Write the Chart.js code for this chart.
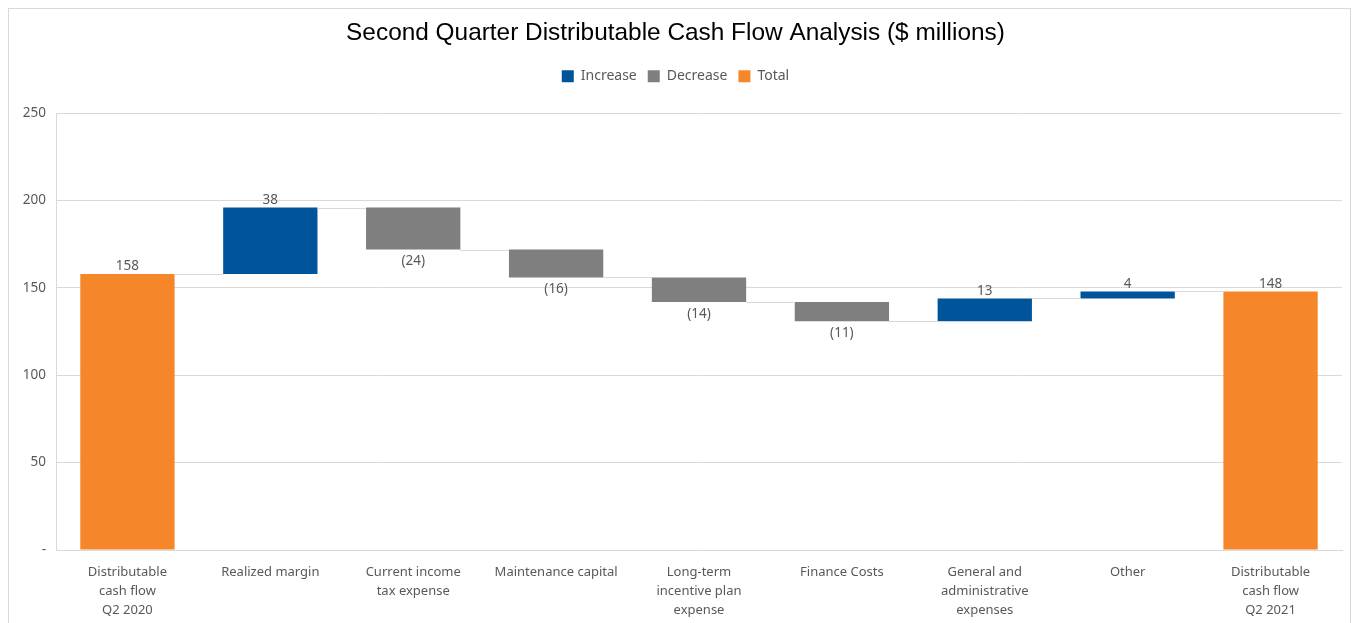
<!DOCTYPE html>
<html>
<head>
<meta charset="utf-8">
<script src="https://cdn.jsdelivr.net/npm/chart.js@4.4.1/dist/chart.umd.min.js"></script>
<style>
  body { margin: 0; background: #fff; }
  #frame { position: absolute; left: 8px; top: 8px; width: 1341px; height: 640px; border: 1px solid #d9d9d9; }
  #wrap { position: absolute; left: 0; top: 0; width: 1341px; height: 615px; }
</style>
</head>
<body>
<div id="frame"><div id="wrap"><canvas id="cashChart"></canvas></div></div>
<script>
const categories = [
  ['Distributable', 'cash flow', 'Q2 2020'],
  'Realized margin',
  ['Current income', 'tax expense'],
  'Maintenance capital',
  ['Long-term', 'incentive plan', 'expense'],
  'Finance Costs',
  ['General and', 'administrative', 'expenses'],
  'Other',
  ['Distributable', 'cash flow', 'Q2 2021']
];
const amounts = [158, 38, -24, -16, -14, -11, 13, 4, 148];
const kinds = ['total', 'increase', 'decrease', 'decrease', 'decrease', 'decrease', 'increase', 'increase', 'total'];
const yTicks = [0, 50, 100, 150, 200, 250];

const colors = { increase: '#00559a', decrease: '#7f7f7f', total: '#f5862a' };
const textColor = '#595959';
const font = "'Noto Sans', sans-serif";

// floating ranges from the running total
const ranges = [];
const levels = [];
let running = 0;
amounts.forEach((amt, i) => {
  if (kinds[i] === 'total') {
    ranges.push([0, amt]);
    running = amt;
  } else {
    ranges.push([running, running + amt]);
    running += amt;
  }
  levels.push(running);
});

function series(kind) {
  return ranges.map((r, i) => kinds[i] === kind ? r : null);
}

// extra room under the legend
const legendGap = {
  id: 'legendGap',
  beforeInit(chart) {
    const fit = chart.legend.fit;
    chart.legend.fit = function () {
      fit.bind(chart.legend)();
      this.height += 20;
    };
  }
};

const waterfallExtras = {
  id: 'waterfallExtras',
  afterDatasetsDraw(chart) {
    const ctx = chart.ctx;
    const y = chart.scales.y;
    const bars = [];
    chart.data.datasets.forEach((ds, d) => {
      chart.getDatasetMeta(d).data.forEach((el, i) => {
        if (ds.data[i]) bars[i] = el;
      });
    });
    // connector lines
    ctx.save();
    ctx.strokeStyle = '#d9d9d9';
    ctx.lineWidth = 1;
    for (let i = 0; i < bars.length - 1; i++) {
      const a = bars[i], b = bars[i + 1];
      const py = Math.round(y.getPixelForValue(levels[i])) + 0.5;
      ctx.beginPath();
      ctx.moveTo(a.x + a.width / 2, py);
      ctx.lineTo(b.x - b.width / 2, py);
      ctx.stroke();
    }
    // value labels
    ctx.fillStyle = textColor;
    ctx.font = "13.5px " + font;
    ctx.textAlign = 'center';
    bars.forEach((el, i) => {
      const amt = amounts[i];
      const top = Math.min(el.y, el.base);
      const bottom = Math.max(el.y, el.base);
      if (amt < 0) {
        ctx.textBaseline = 'top';
        ctx.fillText('(' + (-amt) + ')', el.x, bottom + 5);
      } else {
        ctx.textBaseline = 'bottom';
        ctx.fillText(String(amt), el.x, top - 1);
      }
    });
    ctx.restore();
  }
};

new Chart(document.getElementById('cashChart'), {
  type: 'bar',
  data: {
    labels: categories,
    datasets: [
      { label: 'Increase', data: series('increase'), backgroundColor: colors.increase },
      { label: 'Decrease', data: series('decrease'), backgroundColor: colors.decrease },
      { label: 'Total', data: series('total'), backgroundColor: colors.total }
    ]
  },
  options: {
    responsive: true,
    maintainAspectRatio: false,
    animation: false,
    grouped: false,
    categoryPercentage: 1,
    barPercentage: 0.66,
    layout: { padding: { left: 0, right: 8, top: 10, bottom: 0 } },
    plugins: {
      title: {
        display: true,
        text: 'Second Quarter Distributable Cash Flow Analysis ($ millions)',
        color: '#000',
        font: { family: "'Liberation Sans', Arial, sans-serif", size: 24.4, weight: 'normal' },
        padding: { top: 0, bottom: 10 }
      },
      legend: {
        position: 'top',
        labels: {
          color: textColor,
          boxWidth: 12,
          boxHeight: 12,
          padding: 11,
          font: { family: font, size: 14 }
        }
      },
      tooltip: { enabled: false }
    },
    scales: {
      x: {
        grid: { display: false },
        border: { color: '#d9d9d9' },
        ticks: {
          color: textColor,
          font: { family: font, size: 13, lineHeight: 1.45 },
          maxRotation: 0,
          autoSkip: false,
          padding: 5
        },
        afterFit(scale) { scale.height = 74; }
      },
      y: {
        min: 0,
        max: 250,
        afterBuildTicks(scale) { scale.ticks = yTicks.map(v => ({ value: v })); },
        grid: { color: '#d9d9d9', drawTicks: false },
        border: { color: '#d9d9d9' },
        ticks: {
          color: textColor,
          font: { family: font, size: 13.5 },
          padding: 10,
          callback: v => v === 0 ? '-' : v
        },
        afterFit(scale) { scale.width = 47; }
      }
    }
  },
  plugins: [legendGap, waterfallExtras]
});
</script>
</body>
</html>
